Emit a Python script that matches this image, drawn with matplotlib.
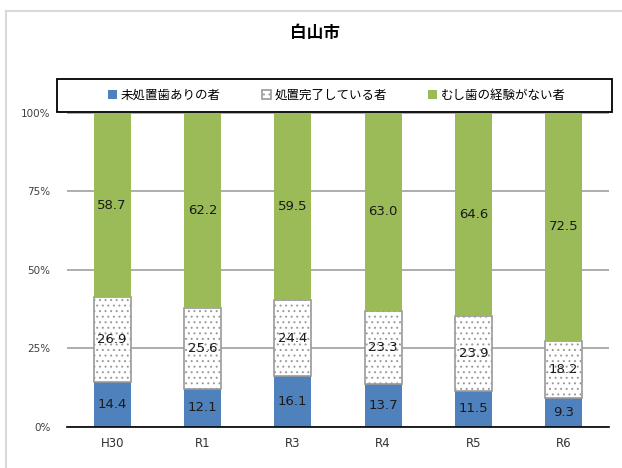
import matplotlib.pyplot as plt
import numpy as np
from matplotlib.patches import Rectangle
from matplotlib.lines import Line2D

plt.rcParams['font.family'] = ['Noto Sans CJK JP', 'DejaVu Sans']
plt.rcParams['hatch.color'] = '#a0a0a0'
plt.rcParams['hatch.linewidth'] = 0.7

categories = ['H30', 'R1', 'R3', 'R4', 'R5', 'R6']
series_names = ['未処置歯ありの者', '処置完了している者', 'むし歯の経験がない者']
untreated = [14.4, 12.1, 16.1, 13.7, 11.5, 9.3]
treated = [26.9, 25.6, 24.4, 23.3, 23.9, 18.2]
no_caries = [58.7, 62.2, 59.5, 63.0, 64.6, 72.5]

vals = np.array([untreated, treated, no_caries], dtype=float)
pct = vals / vals.sum(axis=0) * 100

fig = plt.figure(figsize=(6.22, 4.68), dpi=100)
ax = fig.add_axes([0.1077, 0.0876, 0.871, 0.671])

# light outer frame (top and left edges only visible)
ytop = 1 - 10.5 / 468
xleft = 5.5 / 622
fig.add_artist(Line2D([xleft, 1.0], [ytop, ytop], transform=fig.transFigure,
                      color='#d9d9d9', linewidth=1.5))
fig.add_artist(Line2D([xleft, xleft], [0, ytop], transform=fig.transFigure,
                      color='#d9d9d9', linewidth=1.5))

x = np.arange(len(categories))
width = 0.41
styles = [
    dict(color='#4f81bd', edgecolor='#4f81bd', linewidth=0),
    dict(color='white', edgecolor='#9a9a9a', linewidth=1.2, hatch='...'),
    dict(color='#9bbb59', edgecolor='#9bbb59', linewidth=0),
]

bottom = np.zeros(len(categories))
handles = []
for i in range(3):
    b = ax.bar(x, pct[i], width, bottom=bottom, label=series_names[i],
               zorder=3, **styles[i])
    handles.append(b)
    for xi, bi, pi, vi in zip(x, bottom, pct[i], vals[i]):
        ax.text(xi, bi + pi / 2, f'{vi:.1f}', ha='center', va='center',
                fontsize=9.5, color='#1a1a1a', zorder=4, family='DejaVu Sans')
    bottom += pct[i]

ax.set_xlim(-0.5, len(categories) - 0.5)
ax.set_ylim(0, 100)
ax.set_yticks([0, 25, 50, 75, 100])
ax.set_yticklabels(['0%', '25%', '50%', '75%', '100%'], family='DejaVu Sans')
ax.set_xticks(x)
ax.set_xticklabels(categories, family='DejaVu Sans')
ax.tick_params(axis='y', length=0, pad=12, labelsize=7.5, labelcolor='#404040')
ax.tick_params(axis='x', length=0, pad=7, labelsize=8.5, labelcolor='#303030')
ax.grid(axis='y', color='#a0a0a0', linewidth=1.2, zorder=0)
for s in ['top', 'right', 'left']:
    ax.spines[s].set_visible(False)
ax.spines['bottom'].set_color('black')
ax.spines['bottom'].set_linewidth(1.2)
ax.spines['bottom'].set_zorder(5)

fig.text(315 / 622, 1 - 33 / 468, '白山市', ha='center', va='center',
         fontsize=12, fontweight='bold')

# legend box
fig.patches.append(Rectangle((57 / 622, 1 - 112 / 468), 555 / 622, 33 / 468,
                             transform=fig.transFigure, fill=False,
                             edgecolor='black', linewidth=1.3))
leg = fig.legend(handles=handles, loc='center',
                 bbox_to_anchor=(337 / 622, 1 - 95.5 / 468),
                 ncol=3, frameon=False, fontsize=9,
                 handlelength=0.7, handleheight=0.7,
                 handletextpad=0.3, borderaxespad=0, columnspacing=3.3)

fig.savefig('out.png', dpi=100)
